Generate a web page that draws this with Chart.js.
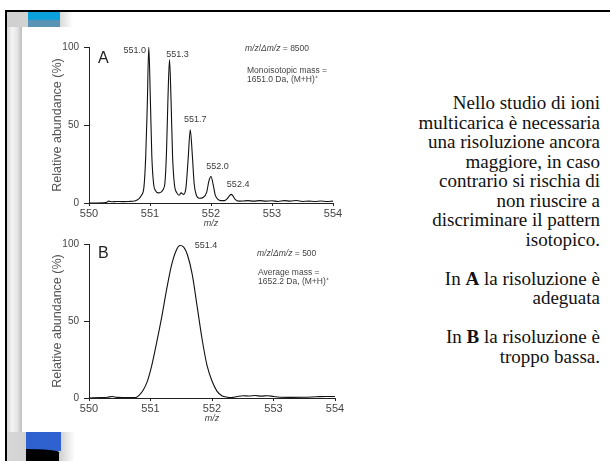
<!DOCTYPE html>
<html lang="it">
<head>
  <meta charset="UTF-8">
  <title>Risoluzione e pattern isotopico</title>
  <script src="https://cdn.jsdelivr.net/npm/chart.js"></script>
  <style>
    html, body {
      margin: 0;
      padding: 0;
      background: #fff;
    }
    body {
      position: relative;
      width: 610px;
      height: 461px;
      overflow: hidden;
      font-family: "Liberation Sans", Arial, sans-serif;
    }
    /* slide frame: black line on top and left, grey band inside */
    .frame {
      position: absolute;
      left: 5px;
      top: 10px;
      width: 640px;
      height: 480px;
      border-left: 2px solid #000;
      border-top: 2px solid #000;
      background: linear-gradient(90deg, #d8d8d8 0, #f4f4f4 5px, #e6e6e6 10px, #bdbdbd 15px, #fff 15px);
    }
    .top-band {
      position: absolute;
      left: 7px;
      top: 12px;
      width: 66px;
      height: 15px;
      background: linear-gradient(90deg, #cfcfcf 0, #d6d6d6 52px, #fff 66px);
    }
    .bottom-band {
      position: absolute;
      left: 7px;
      top: 432px;
      width: 68px;
      height: 29px;
      background: linear-gradient(90deg, #d8d8d8 0, #c8c8c8 50px, #fff 68px);
    }
    .panel {
      position: absolute;
      left: 22px;
      top: 27px;
      width: 600px;
      height: 405px;
      background: #fff;
    }
    .blue-top {
      position: absolute;
      left: 28px;
      top: 12px;
      width: 32px;
      height: 15px;
      background: linear-gradient(180deg, #0aa0dc 0, #0aa0dc 45%, #5a94b4 60%, #5a94b4 100%);
    }
    .blue-bottom {
      position: absolute;
      left: 26px;
      top: 432px;
      width: 35px;
      height: 19px;
      background: #2f61cf;
    }
    .black-bottom {
      position: absolute;
      left: 26px;
      top: 449px;
      width: 33px;
      height: 14px;
      background: #000;
      border-top-right-radius: 40px 4px;
    }
    canvas {
      position: absolute;
      left: 40px;
    }
    #chartA { top: 35px; }
    #chartB { top: 232px; }
    .side-text {
      position: absolute;
      right: 10px;
      top: 93px;
      text-align: right;
      font-family: "Liberation Serif", "Times New Roman", serif;
      font-size: 19px;
      line-height: 19.5px;
      color: #111;
    }
  </style>
</head>
<body>
  <div class="frame"></div>
  <div class="top-band"></div>
  <div class="bottom-band"></div>
  <div class="panel"></div>
  <div class="blue-top"></div>
  <div class="blue-bottom"></div>
  <div class="black-bottom"></div>

  <canvas id="chartA" width="320" height="200"></canvas>
  <canvas id="chartB" width="320" height="198"></canvas>

  <div class="side-text">
    Nello studio di ioni<br>
    multicarica è necessaria<br>
    una risoluzione ancora<br>
    maggiore, in caso<br>
    contrario si rischia di<br>
    non riuscire a<br>
    discriminare il pattern<br>
    isotopico.<br>
    <br>
    In <b>A</b> la risoluzione è<br>
    adeguata<br>
    <br>
    In <b>B</b> la risoluzione è<br>
    troppo bassa.
  </div>

  <script>
    // axis ticks
    const xTicks = [550, 551, 552, 553, 554];
    const yTicks = [0, 50, 100];

    // spectrum A (high resolution)
    const mzA = [550.00, 550.28, 550.32, 550.38, 550.45, 550.55, 550.65, 550.75, 550.81, 550.86,
                 550.90, 550.93, 550.955, 550.98, 551.005, 551.03, 551.06, 551.09, 551.13, 551.18,
                 551.22, 551.245, 551.27, 551.295, 551.32, 551.345, 551.37, 551.40, 551.44, 551.48,
                 551.51, 551.55, 551.59, 551.625, 551.66, 551.695, 551.725, 551.76, 551.81, 551.87,
                 551.93, 551.965, 552.00, 552.035, 552.07, 552.11, 552.16, 552.22, 552.27, 552.30,
                 552.33, 552.36, 552.40, 552.46, 552.53, 552.60, 552.70, 552.80, 552.90, 553.00,
                 553.10, 553.20, 553.30, 553.40, 553.50, 553.60, 553.70, 553.80, 553.90, 554.00];
    const abundA = [0, 0.3, 1.2, 0.8, 1.0, 0.9, 1.0, 1.3, 2.5, 5,
                    10, 30, 62, 100, 68, 30, 12, 8, 6.5, 7,
                    9, 13, 32, 68, 92, 66, 30, 12, 6.5, 5,
                    6.5, 5.5, 10, 28, 47, 30, 12, 5, 3, 3.5,
                    7, 14, 17, 12, 5, 2.5, 1.5, 1.5, 3, 4.5,
                    5.5, 4.5, 2.2, 1.2, 1.3, 1.5, 1.2, 1.5, 1.2, 1.4,
                    1.0, 1.5, 1.2, 1.6, 1.0, 1.2, 1.0, 1.3, 1.0, 1.2];

    // spectrum B (low resolution)
    const mzB = [550.00, 550.20, 550.30, 550.38, 550.45, 550.55, 550.65, 550.76, 550.82, 550.88,
                 550.95, 551.02, 551.10, 551.18, 551.26, 551.34, 551.42, 551.48, 551.54, 551.60,
                 551.68, 551.76, 551.84, 551.92, 552.00, 552.08, 552.16, 552.25, 552.32, 552.40,
                 552.50, 552.60, 552.70, 552.80, 552.90, 553.00, 553.10, 553.30, 553.50, 553.70,
                 553.85, 554.00];
    const abundB = [0, 0.3, 0.5, 1.0, 0.4, 0.3, 0.3, 0.3, 2, 5,
                    11, 21, 36, 52, 70, 86, 96, 99, 98, 93,
                    80, 59, 38, 21, 11, 4.5, 1.5, 0.5, 0.3, 0.8,
                    1.5, 1.3, 1.6, 1.2, 1.5, 1.0, 0.5, 0.4, 0.5, 0.8,
                    1.0, 1.0];

    // labelled peaks
    const peakLabelsA = ['551.0', '551.3', '551.7', '552.0', '552.4'];
    const peakMzA = [550.98, 551.32, 551.66, 552.00, 552.33];
    const peakAbA = [100, 92, 47, 17, 5.5];
    const peakLabelsB = ['551.4'];
    const peakMzB = [551.48];
    const peakAbB = [99];

    const SANS = '"Liberation Sans", Arial, sans-serif';

    // draws the panel letter, peak labels and the small notes
    const slideText = {
      id: 'slideText',
      afterDatasetsDraw(chart, args, opts) {
        const { ctx, chartArea: a, scales: { x, y } } = chart;
        ctx.save();
        ctx.textBaseline = 'middle';

        ctx.fillStyle = '#3a3a3a';
        ctx.font = '9px ' + SANS;
        ctx.textAlign = 'center';
        opts.labels.forEach((t, i) => {
          const [dx, dy] = opts.offsets[i];
          ctx.fillText(t, x.getPixelForValue(opts.mz[i]) + dx, y.getPixelForValue(opts.ab[i]) + dy);
        });

        ctx.textAlign = 'left';
        ctx.fillStyle = '#222';
        ctx.font = '16px ' + SANS;
        ctx.fillText(opts.letter, a.left + 9, a.top + opts.letterDy);

        ctx.fillStyle = '#444';
        opts.notes.forEach(n => {
          let cx = a.left + n.dx;
          n.runs.forEach(([txt, italic]) => {
            ctx.font = (italic ? 'italic ' : '') + '8.5px ' + SANS;
            ctx.fillText(txt, cx, a.top + n.dy);
            cx += ctx.measureText(txt).width;
          });
        });
        ctx.restore();
      }
    };

    function makeScales() {
      return {
        x: {
          type: 'linear',
          min: 550,
          max: 554,
          afterBuildTicks: s => { s.ticks = xTicks.map(v => ({ value: v })); },
          afterFit: s => { s.height = 32; },
          grid: { drawOnChartArea: false, drawTicks: true, tickLength: 3, color: '#222' },
          border: { display: true, color: '#222', width: 1 },
          ticks: { color: '#444', font: { family: SANS, size: 11 }, padding: 1, maxRotation: 0, autoSkip: false },
          title: { display: true, text: 'm/z', color: '#444', font: { family: SANS, size: 9, style: 'italic' }, padding: { top: 0, bottom: 6 } }
        },
        y: {
          min: 0,
          max: 100,
          afterBuildTicks: s => { s.ticks = yTicks.map(v => ({ value: v })); },
          afterFit: s => { s.width = 49; },
          grid: { drawOnChartArea: false, drawTicks: true, tickLength: 5, color: '#222' },
          border: { display: true, color: '#222', width: 1 },
          ticks: { color: '#444', font: { family: SANS, size: 10 }, padding: 5 },
          title: { display: true, text: 'Relative abundance (%)', color: '#555', font: { family: SANS, size: 12.5 }, padding: { top: 10, bottom: 0 } }
        }
      };
    }

    function spectrum(canvasId, mz, ab, rightPad, textOpts) {
      return new Chart(document.getElementById(canvasId), {
        type: 'line',
        data: {
          datasets: [{
            data: mz.map((m, i) => ({ x: m, y: ab[i] })),
            borderColor: '#111',
            borderWidth: 1.1,
            pointRadius: 0,
            cubicInterpolationMode: 'monotone',
            fill: false
          }]
        },
        options: {
          responsive: false,
          animation: false,
          layout: { padding: { top: 12, right: rightPad, left: 0, bottom: 0 } },
          plugins: { legend: { display: false }, tooltip: { enabled: false }, slideText: textOpts },
          scales: makeScales()
        },
        plugins: [slideText]
      });
    }

    spectrum('chartA', mzA, abundA, 27, {
      labels: peakLabelsA,
      mz: peakMzA,
      ab: peakAbA,
      offsets: [[-14, 4], [8, -5], [5, -10], [6.5, -9.5], [7, -10]],
      letter: 'A',
      letterDy: 12,
      notes: [
        { dx: 156, dy: 2, runs: [['m/z', true], ['/', false], ['\u0394m/z', true], [' = 8500', false]] },
        { dx: 158, dy: 24, runs: [['Monoisotopic mass =', false]] },
        { dx: 158, dy: 32.5, runs: [['1651.0 Da, (M+H)\u207A', false]] }
      ]
    });

    spectrum('chartB', mzB, abundB, 25, {
      labels: peakLabelsB,
      mz: peakMzB,
      ab: peakAbB,
      offsets: [[26, 0]],
      letter: 'B',
      letterDy: 10,
      notes: [
        { dx: 168, dy: 10, runs: [['m/z', true], ['/', false], ['\u0394m/z', true], [' = 500', false]] },
        { dx: 169, dy: 29, runs: [['Average mass =', false]] },
        { dx: 169, dy: 38, runs: [['1652.2 Da, (M+H)\u207A', false]] }
      ]
    });
  </script>
</body>
</html>
